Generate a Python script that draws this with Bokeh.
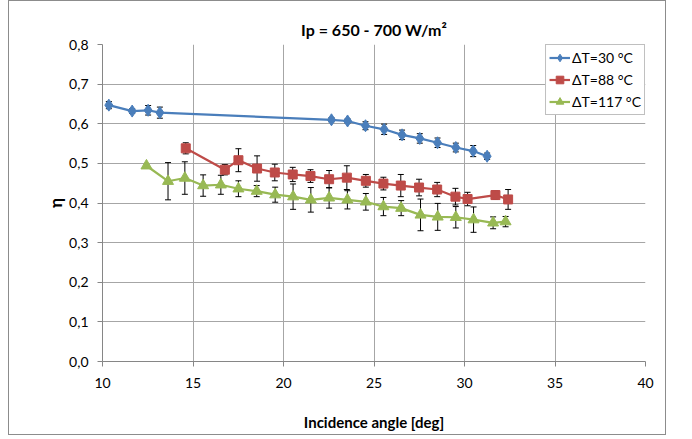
from bokeh.plotting import figure
from bokeh.models import (ColumnDataSource, Whisker, TeeHead, FixedTicker,
                          CustomJSTickFormatter, Legend, LegendItem, Range1d)
from bokeh.embed import file_html
from bokeh.resources import INLINE

# ---- data ----
title = "Ip = 650 - 700 W/m²"
x_label = "Incidence angle [deg]"
y_label = "η"

s1_name = "ΔT=30 °C"
s1_x = [10.35, 11.64, 12.52, 13.17, 22.65, 23.54, 24.53, 25.56, 26.55, 27.53, 28.51, 29.52, 30.48, 31.25]
s1_y = [0.647, 0.632, 0.634, 0.628, 0.610, 0.607, 0.595, 0.586, 0.572, 0.563, 0.552, 0.540, 0.531, 0.518]
s1_err = [0.009, 0.006, 0.012, 0.014, 0.005, 0.005, 0.010, 0.013, 0.012, 0.012, 0.012, 0.011, 0.014, 0.008]

s2_name = "ΔT=88 °C"
s2_x = [14.60, 16.76, 17.51, 18.54, 19.52, 20.51, 21.49, 22.52, 23.50, 24.55, 25.52, 26.48, 27.49, 28.49, 29.50, 30.17, 31.71, 32.41]
s2_y = [0.538, 0.484, 0.508, 0.487, 0.477, 0.472, 0.468, 0.460, 0.464, 0.456, 0.449, 0.444, 0.439, 0.434, 0.416, 0.410, 0.420, 0.409]
s2_err = [0.014, 0.013, 0.029, 0.032, 0.021, 0.018, 0.016, 0.022, 0.030, 0.016, 0.016, 0.028, 0.021, 0.018, 0.021, 0.017, 0.011, 0.025]

s3_name = "ΔT=117 °C"
s3_x = [12.43, 13.62, 14.55, 15.56, 16.54, 17.51, 18.52, 19.54, 20.53, 21.51, 22.52, 23.53, 24.55, 25.52, 26.50, 27.57, 28.52, 29.52, 30.50, 31.58, 32.27]
s3_y = [0.494, 0.455, 0.463, 0.444, 0.446, 0.436, 0.430, 0.421, 0.416, 0.408, 0.413, 0.408, 0.403, 0.391, 0.387, 0.370, 0.365, 0.364, 0.358, 0.350, 0.353]
s3_err = [0.0, 0.047, 0.041, 0.027, 0.024, 0.020, 0.014, 0.019, 0.032, 0.031, 0.026, 0.023, 0.021, 0.023, 0.019, 0.040, 0.034, 0.027, 0.032, 0.015, 0.013]

x_ticks = [10, 15, 20, 25, 30, 35, 40]
y_ticks = [0.0, 0.1, 0.2, 0.3, 0.4, 0.5, 0.6, 0.7, 0.8]

FONT = "Lato"
GRID = "#a6a6a6"

p = figure(width=658, height=435, output_backend="svg", toolbar_location=None,
           x_range=Range1d(10, 40), y_range=Range1d(0, 0.8),
           min_border_left=93, min_border_right=22, min_border_top=43, min_border_bottom=75,
           title=title)
p.styles = {"border": "1px solid #8c8c8c", "margin-left": "8px"}
p.title.align = "center"
p.title.text_font = FONT
p.title.text_font_size = "16px"
p.title.text_font_style = "bold"
p.title.text_color = "#000000"
p.title.offset = 0
p.title.standoff = 12

p.outline_line_color = None
p.background_fill_color = "white"
p.border_fill_color = "white"

for ax in (p.xaxis, p.yaxis):
    ax.axis_line_color = "#868686"
    ax.major_tick_line_color = "#868686"
    ax.minor_tick_line_color = None
    ax.major_tick_in = 0
    ax.major_tick_out = 5
    ax.major_label_text_font = FONT
    ax.major_label_text_font_size = "14px"
    ax.major_label_text_color = "#000000"
    ax.axis_label_text_font = FONT
    ax.axis_label_text_font_size = "15px"
    ax.axis_label_text_font_style = "bold"
    ax.axis_label_text_color = "#000000"

p.xaxis.ticker = FixedTicker(ticks=x_ticks)
p.yaxis.ticker = FixedTicker(ticks=y_ticks)
p.yaxis.formatter = CustomJSTickFormatter(code="return tick.toFixed(1).replace('.', ',');")
p.xaxis.axis_label = x_label
p.yaxis.axis_label = y_label
p.xaxis.major_label_standoff = 11
p.xaxis.axis_label_standoff = 22
p.yaxis.major_label_standoff = 9
p.yaxis.axis_label_standoff = 0
p.yaxis.axis_label_text_font_size = "17px"

p.xgrid.grid_line_color = GRID
p.ygrid.grid_line_color = GRID
p.xgrid.ticker = FixedTicker(ticks=x_ticks)
p.ygrid.ticker = FixedTicker(ticks=y_ticks)

series = [
    (s1_name, s1_x, s1_y, s1_err, "#4a7ebb", "diamond", 12),
    (s2_name, s2_x, s2_y, s2_err, "#be4b48", "square", 9),
    (s3_name, s3_x, s3_y, s3_err, "#98b954", "triangle", 11),
]

items = []
for name, xs, ys, es, col, marker, size in series:
    src = ColumnDataSource(dict(x=xs, y=ys))
    ln = p.line("x", "y", source=src, line_color=col, line_width=2.2)
    sc = p.scatter("x", "y", source=src, marker=marker, size=size,
                   fill_color=col, line_color=col)
    ex = [x for x, e in zip(xs, es) if e > 0]
    up = [y + e for y, e in zip(ys, es) if e > 0]
    lo = [y - e for y, e in zip(ys, es) if e > 0]
    esrc = ColumnDataSource(dict(x=ex, upper=up, lower=lo))
    w = Whisker(base="x", upper="upper", lower="lower", source=esrc,
                line_color="black", line_width=1,
                upper_head=TeeHead(size=6, line_color="black", line_width=1),
                lower_head=TeeHead(size=6, line_color="black", line_width=1))
    p.add_layout(w)
    items.append(LegendItem(label=name, renderers=[ln, sc]))

legend = Legend(items=items, location="top_right")
legend.margin = 0
legend.padding = 3
legend.spacing = 3
legend.glyph_width = 21
legend.glyph_height = 19
legend.label_standoff = 2
legend.label_text_font = FONT
legend.label_text_font_size = "14px"
legend.label_text_color = "#000000"
legend.border_line_color = "#7f7f7f"
legend.border_line_width = 1
legend.background_fill_color = "white"
legend.background_fill_alpha = 1
p.add_layout(legend)

open("out.html", "w").write(file_html(p, INLINE))
